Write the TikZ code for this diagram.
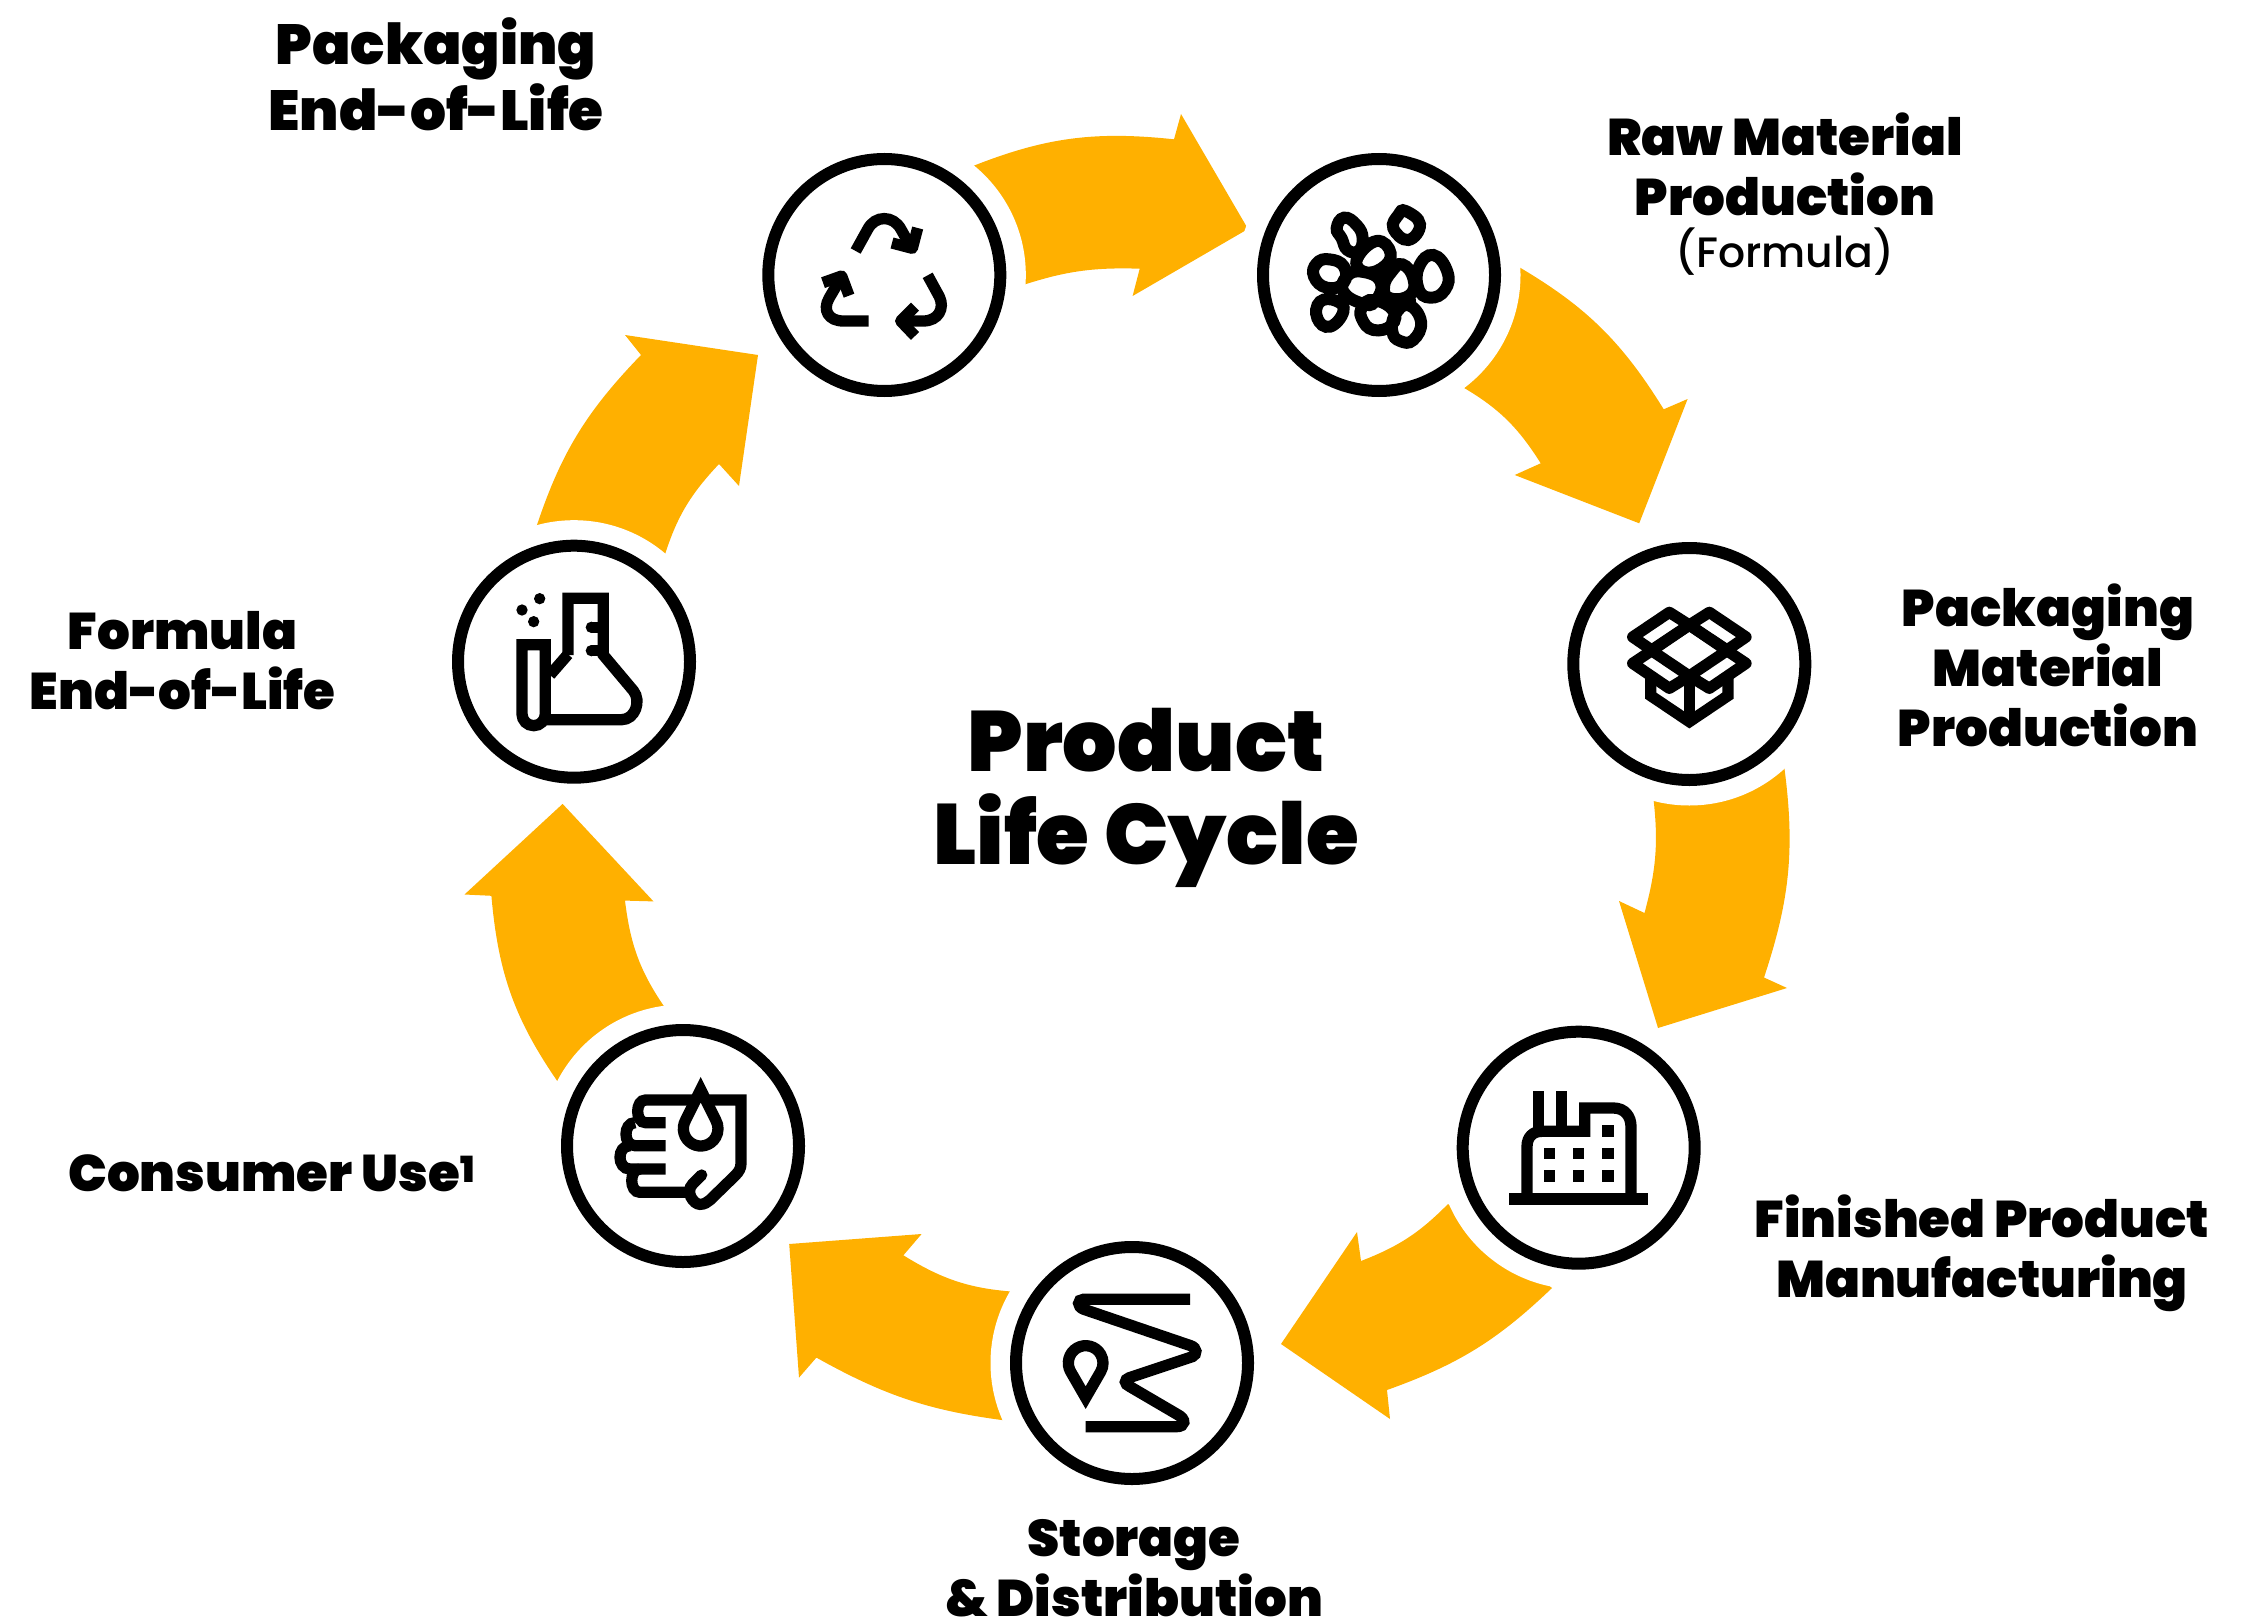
\documentclass[tikz,border=0pt]{standalone}
\usepackage{fontspec}
\setmainfont{Poppins Medium}[BoldFont={Poppins Black}]
\definecolor{amber}{HTML}{FFB000}
\tikzset{
 flow/.style={fill=amber,draw=none},
 ring/.style={circle,draw=black,fill=white,line width=12pt,minimum size=232pt,inner sep=0pt},
 ico/.style={line width=11.3pt,draw=black},
 label/.style={align=center,font=\bfseries\fontsize{51.5}{60}\selectfont,inner sep=0pt},
 biglabel/.style={align=center,font=\bfseries\fontsize{56.5}{66}\selectfont,inner sep=0pt},
 sublabel/.style={font=\fontsize{42.5}{50}\selectfont,inner sep=0pt},
 title/.style={align=center,font=\bfseries\fontsize{85.5}{93}\selectfont,inner sep=0pt},
 zoomed/.style={shift={(#1)},scale=0.33333},
}
\begin{document}
\begin{tikzpicture}[x=1pt,y=1pt,yscale=-1]
\useasboundingbox (0,0) rectangle (2254,1621);
\coordinate (pr) at (884.3,275);
\coordinate (pw) at (1379,275);
\coordinate (pb) at (1689.3,664);
\coordinate (pf) at (1578.7,1147.7);
\coordinate (ps) at (1132,1363);
\coordinate (pc) at (683,1146);
\coordinate (pl) at (574,661.7);
\fill[flow] (968,168) to[bend right=14] (1174,139.3) -- (1181,114) -- (1248,229) -- (1132.6,296) -- (1139.7,268.7) to[bend left=10] (1020,286) -- cycle;
\fill[flow] (1515.5,265) to[bend right=14] (1663.7,409.3) -- (1687.6,399) -- (1639.2,523.3) -- (1514.7,475) -- (1540.7,463.3) to[bend left=14] (1459,385) -- cycle;
\fill[flow] (1784,765) to[bend right=13] (1764,977.5) -- (1787,988) -- (1658,1028) -- (1619,901) -- (1644.5,913) to[bend left=11] (1653,795) -- cycle;
\fill[flow] (1552,1288) to[bend right=12] (1387,1390) -- (1390,1419) -- (1281,1344) -- (1357,1232) -- (1361,1261) to[bend left=12] (1448,1204) -- cycle;
\fill[flow] (1009.3,1421) to[bend right=11] (816.4,1357.6) -- (799,1377.6) -- (789.2,1244) -- (921.6,1234) -- (903.4,1255.3) to[bend left=14] (1018,1292) -- cycle;
\fill[flow] (560.5,1085.7) to[bend right=15] (491.4,895.8) -- (464.5,894.5) -- (562.6,803.9) -- (653.5,901.4) -- (625,900.6) to[bend left=14] (667,1010.7) -- cycle;
\fill[flow] (535,531) to[bend right=13] (641,355) -- (625,335) -- (758,355) -- (739,486) -- (719,464) to[bend left=13] (663.5,559) -- cycle;
\foreach \p in {pr,pw,pb,pf,ps,pc,pl} \fill[white] (\p) circle (141.5);
\node[ring] (recycle) at (pr) {};
\node[ring] (raw) at (pw) {};
\node[ring] (box) at (pb) {};
\node[ring] (factory) at (pf) {};
\node[ring] (storage) at (ps) {};
\node[ring] (consumer) at (pc) {};
\node[ring] (formula) at (pl) {};
% recycle icon
\begin{scope}[zoomed={745,135},ico]
\draw (332,348) -- (368,283) .. controls (390,240) and (445,240) .. (468,283) -- (497,335);
\draw[line join=round] (441,324) -- (502,340) -- (518,279);
\draw (548,421) -- (583,485) .. controls (600,520) and (580,558) .. (535,558) -- (470,558);
\draw[line join=round] (510,515) -- (467,558) -- (510,603);
\draw (371,558) -- (295,558) .. controls (250,558) and (232,525) .. (252,490) -- (290,425);
\draw[line join=round] (234,443) -- (290,423) -- (312,482);
\end{scope}
% raw material icon
\begin{scope}[zoomed={1240,135},ico,line width=12pt]
\fill (340,390) -- (440,380) -- (500,380) -- (525,470) -- (530,520) -- (470,560) -- (350,510) -- (310,450) -- cycle;
\draw[preaction={fill=white}]
 plot[smooth cycle,tension=.8] coordinates {(312,248)(350,270)(368,310)(355,348)(322,345)(305,310)(290,280)}
 plot[smooth cycle,tension=.8] coordinates {(497,228)(540,268)(505,315)(460,280)(475,240)}
 plot[smooth cycle,tension=.8] coordinates {(410,318)(452,355)(425,400)(370,410)(352,370)}
 plot[smooth cycle,tension=.8] coordinates {(268,373)(312,395)(310,445)(260,458)(222,425)(230,385)}
 plot[smooth cycle,tension=.8] coordinates {(365,410)(422,440)(405,500)(365,505)(310,470)(320,425)}
 plot[smooth cycle,tension=.8] coordinates {(487,388)(520,430)(510,480)(450,490)(432,455)(455,410)}
 plot[smooth cycle,tension=.8] coordinates {(580,360)(622,410)(615,465)(570,488)(535,460)(537,395)}
 plot[smooth cycle,tension=.8] coordinates {(290,498)(310,530)(270,575)(232,550)(240,500)}
 plot[smooth cycle,tension=.8] coordinates {(400,495)(458,525)(455,570)(400,585)(365,550)(368,515)}
 plot[smooth cycle,tension=.8] coordinates {(505,510)(543,560)(520,615)(480,618)(457,590)(465,540)};
\end{scope}
% box icon
\begin{scope}[zoomed={1550,530},ico]
\draw (302,440) -- (302,497) -- (418,575) -- (534,497) -- (534,440);
\draw (418,438) -- (418,575);
\begin{scope}[line join=round]
\draw (358,247) -- (248,321) -- (305,360) -- (418,285) -- cycle;
\draw (478,247) -- (588,321) -- (531,360) -- (418,285) -- cycle;
\draw (305,362) -- (248,400) -- (358,475) -- (418,438);
\draw (531,362) -- (588,400) -- (478,475) -- (418,438);
\draw (418,285) -- (305,362) -- (418,438) -- (531,362) -- cycle;
\end{scope}
\end{scope}
% factory icon
\begin{scope}[zoomed={1440,1020},ico]
\fill (208,520) rectangle (625,554);
\fill (278,213) rectangle (312,325);
\fill (348,213) rectangle (382,325);
\draw (261,530) -- (261,380) .. controls (261,350) and (280,334) .. (305,334) -- (434,334) -- (434,264) -- (520,264) .. controls (555,264) and (573,290) .. (573,320) -- (573,530);
\foreach \x in {312,399,487} \foreach \y in {384,451} \fill (\x,\y) rectangle ++(34,34);
\fill (487,316) rectangle ++(34,34);
\end{scope}
% storage icon
\begin{scope}[zoomed={1000,1230},ico]
\draw (570,208) -- (250,208) .. controls (232,208) and (230,230) .. (252,238) -- (572,347) .. controls (592,354) and (592,373) .. (577,380) -- (388,443) .. controls (372,449) and (372,462) .. (390,470) -- (530,552) .. controls (562,568) and (555,590) .. (530,590) -- (257,590);
\draw (257,503) -- (212,425) arc[start angle=150,end angle=390,radius=52] -- cycle;
\end{scope}
% consumer icon
\begin{scope}[zoomed={545,1010},ico]
\draw (470,495) -- (443,522) .. controls (420,545) and (445,583) .. (465,583) .. controls (478,583) and (487,577) .. (495,570) -- (570,497) .. controls (582,485) and (588,475) .. (588,460) -- (588,270) -- (302,270) .. controls (270,270) and (270,338) .. (302,338) -- (362,338);
\draw (270,338) .. controls (234,338) and (234,407) .. (270,407) -- (362,407);
\draw (255,407) .. controls (215,407) and (215,477) .. (255,477) -- (362,477);
\draw (285,477) .. controls (252,477) and (252,547) .. (285,547) -- (425,547);
\fill (470,495) circle (17);
\draw[fill=white] (467,239) -- (422,330) arc[start angle=210,end angle=-30,radius=52] -- cycle;
\end{scope}
% formula icon
\begin{scope}[zoomed={435,525},ico]
\fill (314,221) circle (17) (261,255) circle (17) (296,290) circle (17);
\draw (399,390) -- (399,220) -- (505,220) -- (505,390) -- (595,497) .. controls (620,528) and (600,584) .. (560,584) -- (335,584);
\draw (399,388) -- (345,450);
\draw (261,359) -- (331,359) -- (331,567) arc[start angle=0,end angle=180,radius=35] -- cycle;
\draw (469,307) -- (505,307);
\draw (469,377) -- (505,377);
\fill (469,307) circle (17) (469,377) circle (17);
\end{scope}
% labels
\node[biglabel] (tpe) at (436,74) {Packaging\\End-of-Life};
\node[label] (trm) at (1785,164) {Raw Material\\Production};
\node[sublabel] (tfm) at (1785,252) {(Formula)};
\node[label] (tpm) at (2048,665) {Packaging\\Material\\Production};
\node[label] (tfe) at (182.6,661) {Formula\\End-of-Life};
\node[title] (tt) at (1146,798) {Product\\Life Cycle};
\node[label] (tfp) at (1982,1253) {Finished Product\\Manufacturing};
\node[label] (tsd) at (1134,1568.5) {Storage\\\& Distribution};
\node[label] (tcu) at (271.7,1173.5) {Consumer Use\textsuperscript{1}};
\end{tikzpicture}
\end{document}
